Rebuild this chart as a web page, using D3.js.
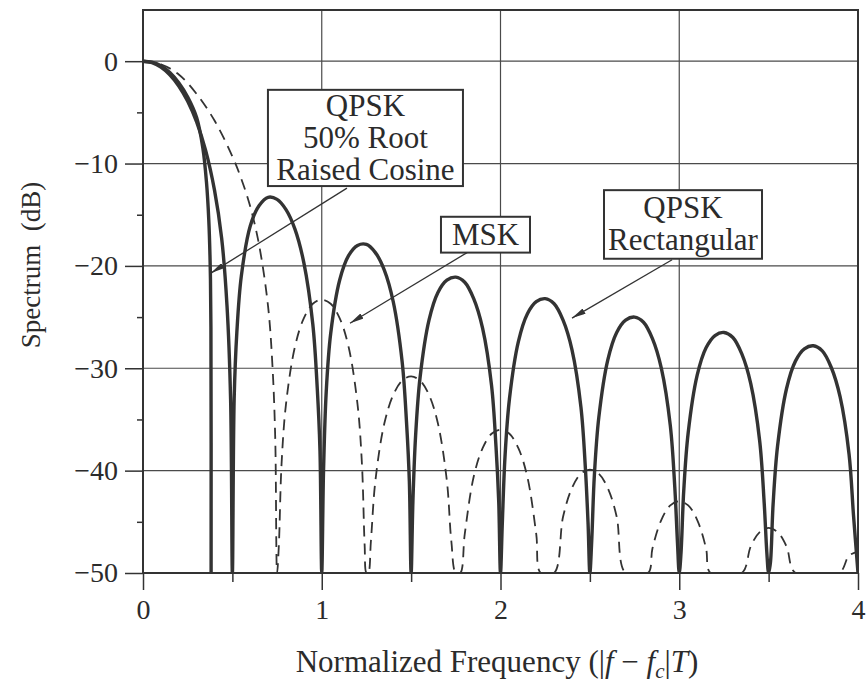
<!DOCTYPE html>
<html>
<head>
<meta charset="utf-8">
<script src="https://cdn.jsdelivr.net/npm/d3@7"></script>
<style>
  body { margin: 0; background: #fff; }
  svg text { font-family: "Liberation Serif", "Times New Roman", serif; fill: #2b2b2b; }
</style>
</head>
<body>
<svg id="chart" width="866" height="683"></svg>
<script>
// values: [normalized frequency, spectrum dB]
const freqTicks = [0, 1, 2, 3, 4];
const freqMinor = [0.5, 1.5, 2.5, 3.5];
const dbTicks = [0, -10, -20, -30, -40, -50];
const dbMinor = [-5, -15, -25, -35, -45];

const qpskRect = [
  [0, 0], [0.05, -0.14], [0.1, -0.58], [0.15, -1.33], [0.2, -2.42], [0.25, -3.92], [0.3, -5.94],
  [0.35, -8.69], [0.4, -12.6], [0.44, -17.3], [0.47, -23.9], [0.49, -33], [0.5, -50],
  [0.51, -33], [0.525, -26.5], [0.55, -21], [0.6, -16.1], [0.65, -14.1], [0.7, -13.3], [0.75, -13.5],
  [0.8, -14.5], [0.85, -16.4], [0.9, -19.7], [0.95, -25.7], [0.975, -32], [0.99, -38], [1.0, -50],
  [1.01, -40], [1.025, -32.3], [1.05, -26.6], [1.1, -21.4], [1.15, -19.0], [1.2, -18.0], [1.25, -17.9],
  [1.3, -18.7], [1.35, -20.4], [1.4, -23.5], [1.45, -29.4], [1.475, -35.5], [1.49, -41], [1.5, -50],
  [1.51, -43], [1.525, -36.6], [1.55, -30.9], [1.6, -25.3], [1.65, -22.6], [1.7, -21.4], [1.75, -21.1],
  [1.8, -21.6], [1.85, -23.2], [1.9, -26.1], [1.95, -31.7], [1.975, -37.7], [1.99, -43], [2.0, -50],
  [2.01, -45.2], [2.025, -38.7], [2.05, -33.0], [2.1, -27.4], [2.15, -24.7], [2.2, -23.5], [2.25, -23.2],
  [2.3, -23.7], [2.35, -25.3], [2.4, -28.2], [2.45, -33.8], [2.475, -39.8], [2.49, -45.2], [2.5, -50],
  [2.51, -47], [2.525, -40.5], [2.55, -34.8], [2.6, -29.2], [2.65, -26.5], [2.7, -25.3], [2.75, -25.0],
  [2.8, -25.5], [2.85, -27.1], [2.9, -30.0], [2.95, -35.6], [2.975, -41.6], [2.99, -47], [3.0, -50],
  [3.01, -48], [3.025, -42], [3.05, -36.3], [3.1, -30.7], [3.15, -28.0], [3.2, -26.8], [3.25, -26.5],
  [3.3, -27.0], [3.35, -28.6], [3.4, -31.5], [3.45, -37.1], [3.475, -43.1], [3.49, -48], [3.5, -50],
  [3.51, -49], [3.525, -43.3], [3.55, -37.6], [3.6, -32.0], [3.65, -29.3], [3.7, -28.1], [3.75, -27.8],
  [3.8, -28.3], [3.85, -29.9], [3.9, -32.8], [3.95, -38.4], [3.975, -44.4], [4.0, -50]
];

const qpskRrc = [
  [0, 0], [0.05, -0.1], [0.1, -0.45], [0.15, -1.1], [0.2, -2.1], [0.25, -3.5], [0.3, -5.5],
  [0.335, -8.5], [0.355, -11.8], [0.368, -15.5], [0.376, -20], [0.38, -26], [0.381, -50]
];

const msk = [
  [0, 0], [0.1, -0.3], [0.2, -1.3], [0.3, -3.2], [0.4, -5.8], [0.5, -9.3], [0.55, -11.5], [0.6, -14.2],
  [0.65, -18], [0.7, -24], [0.725, -30], [0.74, -37], [0.75, -50],
  [0.76, -47.3], [0.775, -39.4], [0.8, -33.5], [0.85, -27.9], [0.9, -25.1], [0.95, -23.7], [1.0, -23.3],
  [1.05, -23.7], [1.1, -25.1], [1.15, -27.9], [1.2, -33.5], [1.225, -39.4], [1.24, -47.3], [1.25, -50],
  [1.26, -50], [1.275, -46.9], [1.3, -41.0], [1.35, -35.4], [1.4, -32.6], [1.45, -31.2], [1.5, -30.8],
  [1.55, -31.2], [1.6, -32.6], [1.65, -35.4], [1.7, -41.0], [1.725, -46.9], [1.75, -50],
  [1.775, -50], [1.8, -46.2], [1.85, -40.6], [1.9, -37.8], [1.95, -36.4], [2.0, -36.0], [2.05, -36.4],
  [2.1, -37.8], [2.15, -40.6], [2.2, -46.2], [2.225, -50],
  [2.3, -50], [2.35, -44.5], [2.4, -41.7], [2.45, -40.3], [2.5, -39.9], [2.55, -40.3], [2.6, -41.7],
  [2.65, -44.5], [2.7, -50],
  [2.825, -50], [2.85, -47.6], [2.9, -44.8], [2.95, -43.4], [3.0, -43.0], [3.05, -43.4], [3.1, -44.8],
  [3.15, -47.6], [3.175, -50],
  [3.35, -50], [3.4, -47.4], [3.45, -46.0], [3.5, -45.6], [3.55, -46.0], [3.6, -47.4], [3.65, -50],
  [3.895, -50], [3.95, -48.3], [4.0, -47.9]
];

// label boxes: [f left, f right, dB top, dB bottom], lines of text
const boxBounds = [[0.699, 1.790, -2.8, -12.2], [1.667, 2.165, -15.2, -18.7], [2.579, 3.463, -12.6, -19.3]];
const boxLines = [["QPSK", "50% Root", "Raised Cosine"], ["MSK"], ["QPSK", "Rectangular"]];
// arrows: [f from, dB from, f to, dB to]
const arrows = [[1.141, -12.4, 0.38, -20.7], [1.813, -18.7, 1.158, -25.6], [2.960, -19.4, 2.40, -25.1]];

const svg = d3.select("#chart");
const ink = "#333";

let x = d3.scaleLinear().domain([0, 4]).range([143, 858]);
let y = d3.scaleLinear().domain([-50, 5]).range([573, 10]);

svg.append("defs").append("clipPath").attr("id", "plot-clip")
  .append("rect").attr("x", x(0)).attr("y", y(5)).attr("width", x(4) - x(0)).attr("height", y(-50) - y(5));

svg.select("defs").append("marker")
  .attr("id", "arrow").attr("viewBox", "0 0 14 6").attr("refX", 14).attr("refY", 3)
  .attr("markerWidth", 14).attr("markerHeight", 6).attr("markerUnits", "userSpaceOnUse")
  .attr("orient", "auto")
  .append("path").attr("d", "M0,0 L14,3 L0,6 Z").attr("fill", ink);

// grid
const grid = svg.append("g").attr("stroke", "#4a4a4a").attr("stroke-width", 1.2);
grid.selectAll(".hgrid").data(dbTicks.filter(d => d > -50)).join("line")
  .attr("x1", x(0)).attr("x2", x(4)).attr("y1", d => y(d)).attr("y2", d => y(d));
grid.selectAll(".vgrid").data(freqTicks.filter(d => d > 0 && d < 4)).join("line")
  .attr("x1", d => x(d)).attr("x2", d => x(d)).attr("y1", y(5)).attr("y2", y(-50));

// axes
svg.append("g").attr("transform", "translate(" + x(0) + ",0)")
  .call(d3.axisLeft(y).tickValues(dbTicks).tickSize(18).tickPadding(7));
svg.append("g").attr("transform", "translate(" + x(0) + ",0)")
  .call(d3.axisLeft(y).tickValues(dbMinor).tickSize(6).tickFormat(""));
svg.append("g").attr("transform", "translate(0," + y(-50) + ")")
  .call(d3.axisBottom(x).tickValues(freqTicks).tickSize(17).tickPadding(9).tickFormat(d3.format("d")));
svg.append("g").attr("transform", "translate(0," + y(-50) + ")")
  .call(d3.axisBottom(x).tickValues(freqMinor).tickSize(9).tickFormat(""));

svg.selectAll(".domain").remove();
svg.selectAll(".tick line").attr("stroke", ink).attr("stroke-width", 1.5);
svg.selectAll(".tick text").attr("font-size", 28).attr("fill", "#2b2b2b")
  .style("font-family", '"Liberation Serif", serif');

// frame
svg.append("rect")
  .attr("x", x(0)).attr("y", y(5)).attr("width", x(4) - x(0)).attr("height", y(-50) - y(5))
  .attr("fill", "none").attr("stroke", ink).attr("stroke-width", 2);

// curves
const line = d3.line()
  .x(d => x(d[0]))
  .y(d => y(d[1]))
  .curve(d3.curveCatmullRom.alpha(0.5));

const curves = svg.append("g").attr("clip-path", "url(#plot-clip)");
curves.append("path").datum(msk)
  .attr("fill", "none").attr("stroke", ink).attr("stroke-width", 1.8)
  .attr("stroke-dasharray", "11,7").attr("d", line);
curves.append("path").datum(qpskRrc)
  .attr("fill", "none").attr("stroke", ink).attr("stroke-width", 3.4).attr("d", line);
curves.append("path").datum(qpskRect)
  .attr("fill", "none").attr("stroke", ink).attr("stroke-width", 3.4)
  .attr("stroke-linejoin", "round").attr("d", line);

// annotations
svg.append("g").selectAll("line").data(arrows).join("line")
  .attr("x1", d => x(d[0])).attr("y1", d => y(d[1]))
  .attr("x2", d => x(d[2])).attr("y2", d => y(d[3]))
  .attr("stroke", ink).attr("stroke-width", 1.3).attr("marker-end", "url(#arrow)");

const boxes = svg.append("g").selectAll("g").data(boxBounds).join("g");
boxes.append("rect")
  .attr("x", d => x(d[0])).attr("y", d => y(d[2]))
  .attr("width", d => x(d[1]) - x(d[0])).attr("height", d => y(d[3]) - y(d[2]))
  .attr("fill", "#fff").attr("stroke", ink).attr("stroke-width", 2);
boxes.each(function (d, i) {
  const lines = boxLines[i];
  const top = y(d[2]), bottom = y(d[3]);
  const step = 32;
  const first = (top + bottom) / 2 - (lines.length - 1) * step / 2 + 10;
  d3.select(this).selectAll("text").data(lines).join("text")
    .attr("x", (x(d[0]) + x(d[1])) / 2)
    .attr("y", (t, j) => first + j * step)
    .attr("text-anchor", "middle").attr("font-size", 31)
    .text(t => t);
});

// axis titles
svg.append("text")
  .attr("transform", "translate(40,265) rotate(-90)")
  .attr("text-anchor", "middle").attr("font-size", 27)
  .text("Spectrum\u00a0 (dB)");

const xt = svg.append("text")
  .attr("x", 497).attr("y", 672)
  .attr("text-anchor", "middle").attr("font-size", 31);
xt.append("tspan").text("Normalized Frequency (|");
xt.append("tspan").attr("font-style", "italic").text("f");
xt.append("tspan").text(" \u2212 ");
xt.append("tspan").attr("font-style", "italic").text("f");
xt.append("tspan").attr("font-style", "italic").attr("font-size", 21).attr("dy", 6).text("c");
xt.append("tspan").attr("dy", -6).text("|");
xt.append("tspan").attr("font-style", "italic").text("T");
xt.append("tspan").text(")");
</script>
</body>
</html>
